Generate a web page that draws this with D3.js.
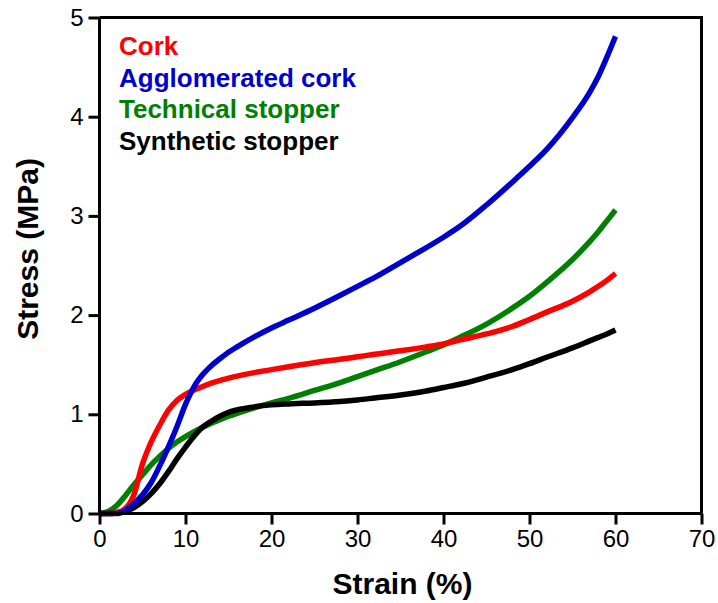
<!DOCTYPE html>
<html>
<head>
<meta charset="utf-8">
<script src="https://cdn.jsdelivr.net/npm/d3@7"></script>
<style>
  html, body { margin: 0; padding: 0; background: #fff; }
  svg { display: block; }
  text { font-family: "Liberation Sans", Arial, sans-serif; }
</style>
</head>
<body>
<svg id="chart" width="718" height="603"></svg>
<script>
// ---- data ----
const strain = [0, 1, 2, 3, 4, 5, 6, 7, 8, 9, 10, 11, 12, 13, 14, 15, 16, 18, 20, 22, 25, 28, 30, 32, 35, 38, 40, 42, 45, 48, 50, 52, 55, 57, 58, 59, 60];

const cork = [0, 0, 0.01, 0.05, 0.19, 0.5, 0.72, 0.89, 1.04, 1.14, 1.2, 1.245, 1.28, 1.315, 1.34, 1.365, 1.385, 1.42, 1.45, 1.48, 1.52, 1.555, 1.58, 1.605, 1.64, 1.68, 1.71, 1.75, 1.81, 1.885, 1.955, 2.03, 2.14, 2.235, 2.29, 2.35, 2.42];
const agglomerated = [0, 0, 0, 0.03, 0.1, 0.19, 0.31, 0.48, 0.67, 0.875, 1.1, 1.28, 1.4, 1.49, 1.56, 1.625, 1.68, 1.78, 1.87, 1.95, 2.07, 2.2, 2.29, 2.38, 2.53, 2.68, 2.785, 2.9, 3.11, 3.34, 3.5, 3.67, 3.99, 4.245, 4.405, 4.6, 4.81];
const technical = [0, 0.02, 0.08, 0.18, 0.29, 0.39, 0.49, 0.575, 0.655, 0.72, 0.775, 0.825, 0.87, 0.91, 0.945, 0.98, 1.01, 1.065, 1.115, 1.16, 1.24, 1.32, 1.38, 1.44, 1.53, 1.63, 1.7, 1.78, 1.91, 2.07, 2.19, 2.33, 2.56, 2.74, 2.84, 2.95, 3.06];
const synthetic = [0, 0, 0.005, 0.02, 0.06, 0.12, 0.2, 0.3, 0.42, 0.55, 0.67, 0.78, 0.87, 0.93, 0.98, 1.02, 1.045, 1.075, 1.095, 1.105, 1.115, 1.13, 1.145, 1.165, 1.195, 1.235, 1.27, 1.305, 1.375, 1.45, 1.51, 1.575, 1.67, 1.74, 1.775, 1.81, 1.85];

const seriesNames = ["Cork", "Agglomerated cork", "Technical stopper", "Synthetic stopper"];
const seriesColors = ["#ff0000", "#0000cc", "#008000", "#000000"];
const seriesValues = [cork, agglomerated, technical, synthetic];

const xTicks = [0, 10, 20, 30, 40, 50, 60, 70];
const yTicks = [0, 1, 2, 3, 4, 5];
const xTitle = "Strain (%)";
const yTitle = "Stress (MPa)";

// ---- layout ----
const pL = 99.5, pR = 701.5, pT = 17.5, pB = 513.5;
const svg = d3.select("#chart");

const x = d3.scaleLinear().domain([0, 70]).range([pL, pR]);
const y = d3.scaleLinear().domain([0, 5]).range([pB, pT]);

// frame (top & right)
svg.append("path")
  .attr("d", `M${pL},${pT}H${pR}V${pB}`)
  .attr("fill", "none").attr("stroke", "#000").attr("stroke-width", 3);

// series (draw order: technical, synthetic, cork, agglomerated)
const line = d3.line()
  .x((d, i) => x(strain[i]))
  .y(d => y(d))
  .curve(d3.curveMonotoneX);

[2, 3, 0, 1].forEach(k => {
  svg.append("path")
    .datum(seriesValues[k])
    .attr("d", line)
    .attr("fill", "none")
    .attr("stroke", seriesColors[k])
    .attr("stroke-width", 5.5)
    .attr("stroke-linecap", "butt")
    .attr("stroke-linejoin", "round");
});

// axes
const xAxis = d3.axisBottom(x).tickValues(xTicks).tickFormat(d3.format("d")).tickSizeInner(11).tickSizeOuter(0).tickPadding(5);
const yAxis = d3.axisLeft(y).tickValues(yTicks).tickFormat(d3.format("d")).tickSizeInner(11).tickSizeOuter(0).tickPadding(5);

const gx = svg.append("g").attr("transform", `translate(0,${pB})`).call(xAxis);
const gy = svg.append("g").attr("transform", `translate(${pL},0)`).call(yAxis);

[gx, gy].forEach(g => {
  g.select(".domain").attr("stroke", "#000").attr("stroke-width", 3);
  g.selectAll(".tick line").attr("stroke", "#000").attr("stroke-width", 3);
  g.selectAll(".tick text").attr("fill", "#000")
    .style("font-family", "'Liberation Sans', Arial, sans-serif")
    .style("font-size", "24px");
});
gx.select(".domain").attr("d", `M${pL},0H${pR}`);
gy.select(".domain").attr("d", `M0,${pB}V${pT}`);

// axis titles
svg.append("text")
  .attr("x", (pL + pR) / 2 + 2)
  .attr("y", 594)
  .attr("text-anchor", "middle")
  .style("font-size", "30px")
  .style("font-weight", "bold")
  .text(xTitle);

svg.append("text")
  .attr("transform", `translate(38,249) rotate(-90)`)
  .attr("text-anchor", "middle")
  .style("font-size", "30px")
  .style("font-weight", "bold")
  .text(yTitle);

// legend
seriesNames.forEach((name, i) => {
  svg.append("text")
    .attr("x", 119)
    .attr("y", 55 + i * 31.7)
    .attr("fill", seriesColors[i])
    .style("font-size", "26px")
    .style("font-weight", "bold")
    .text(name);
});
</script>
</body>
</html>
